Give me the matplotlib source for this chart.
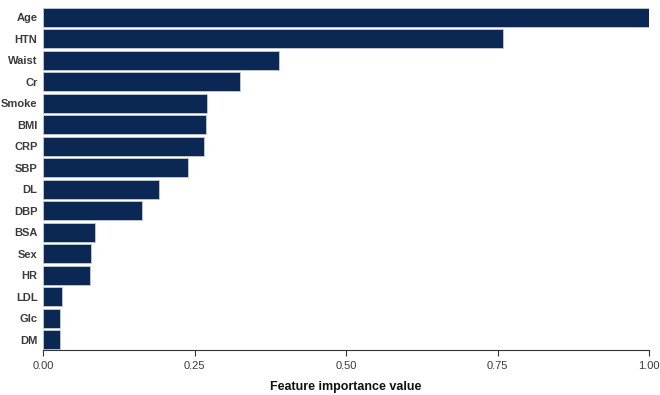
import matplotlib.pyplot as plt

plt.rcParams['font.family'] = ['Liberation Sans', 'DejaVu Sans']

features = ["Age", "HTN", "Waist", "Cr", "Smoke", "BMI", "CRP", "SBP",
            "DL", "DBP", "BSA", "Sex", "HR", "LDL", "Glc", "DM"]
importance = [1.00, 0.759, 0.389, 0.325, 0.271, 0.269, 0.265, 0.240,
              0.191, 0.163, 0.086, 0.080, 0.078, 0.031, 0.028, 0.028]
xticks = [0.0, 0.25, 0.5, 0.75, 1.0]
xtick_labels = ["0.00", "0.25", "0.50", "0.75", "1.00"]

fig = plt.figure(figsize=(6.6, 3.95), dpi=100)
ax = fig.add_axes([43 / 660, 45 / 395, 606 / 660, 343 / 395])

ypos = list(range(len(features)))
ax.barh(ypos, importance, height=0.88, color="#0b2855",
        edgecolor="#c8ccd4", linewidth=0.6)

ax.set_ylim(len(features) - 1 + 0.47, -0.47)
ax.set_xlim(0, 1)
ax.set_yticks(ypos)
ax.set_yticklabels(features, fontsize=8, fontweight="bold", color="#3a3a3a")
ax.set_xticks(xticks)
ax.set_xticklabels(xtick_labels, fontsize=8, color="#3a3a3a")
ax.tick_params(axis="y", length=0, pad=4)
ax.tick_params(axis="x", length=4, width=0.8, color="#333333", pad=4)

for side in ["top", "right", "left"]:
    ax.spines[side].set_visible(False)
ax.spines["bottom"].set_color("#333333")
ax.spines["bottom"].set_linewidth(0.8)

ax.set_xlabel("Feature importance value", fontsize=9, fontweight="bold",
              color="#111111", labelpad=7)

fig.savefig("out.png", dpi=100)
